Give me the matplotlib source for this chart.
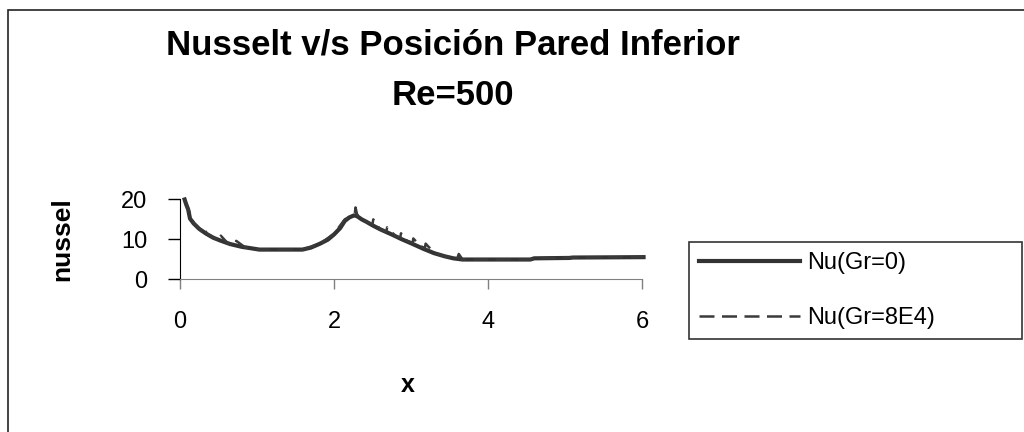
import matplotlib.pyplot as plt
from matplotlib.patches import Rectangle

plt.rcParams['font.family'] = ['Liberation Sans', 'DejaVu Sans']

# Nu(Gr=0) - smooth curve
x_gr0 = [0.06, 0.08, 0.106, 0.13, 0.176, 0.25, 0.34, 0.43, 0.52, 0.65, 0.8, 0.9,
         1.03, 1.3, 1.59, 1.7, 1.82, 1.92, 2.0, 2.08, 2.14, 2.2, 2.26, 2.3, 2.36,
         2.42, 2.5, 2.6, 2.75, 2.88, 3.0, 3.16, 3.3, 3.44, 3.55, 3.67, 4.0, 4.55,
         4.6, 5.06, 5.1, 6.02]
nu_gr0 = [20, 18.8, 17.5, 15.2, 14.0, 12.6, 11.4, 10.4, 9.7, 8.8, 8.1, 7.8,
          7.4, 7.4, 7.4, 7.9, 8.9, 9.9, 11.2, 12.8, 14.6, 15.5, 16.0, 15.8, 15.0,
          14.4, 13.5, 12.5, 11.2, 10.0, 9.0, 7.6, 6.5, 5.7, 5.2, 4.9, 4.9, 4.9,
          5.2, 5.3, 5.4, 5.5]

# Nu(Gr=8E4) - almost the same, with small saw teeth
x_gr8e4 = [0.06, 0.11, 0.18, 0.28, 0.33, 0.34, 0.45, 0.52, 0.53, 0.62, 0.72, 0.73,
           0.85, 1.03, 1.59, 1.82, 2.0, 2.14, 2.22, 2.27, 2.28, 2.3, 2.42, 2.5,
           2.51, 2.6, 2.68, 2.69, 2.8, 2.86, 2.87, 2.95, 3.02, 3.03, 3.12, 3.18,
           3.19, 3.3, 3.44, 3.6, 3.62, 3.67, 4.55, 4.6, 5.06, 6.02]
nu_gr8e4 = [20, 17.5, 14.0, 12.0, 12.9, 11.5, 10.3, 9.7, 10.9, 9.0, 8.4, 9.6,
            7.9, 7.4, 7.4, 8.9, 11.4, 15.0, 15.8, 16.5, 18.0, 16.2, 14.4, 13.8,
            15.0, 12.4, 11.9, 13.0, 10.8, 10.4, 11.5, 9.6, 9.1, 10.2, 8.3, 7.8,
            8.9, 6.6, 5.7, 5.1, 6.3, 4.9, 4.9, 5.2, 5.4, 5.5]

x_ticks = [0, 2, 4, 6]
y_ticks = [0, 10, 20]

fig = plt.figure(figsize=(10.24, 4.32), dpi=100)
ax = fig.add_axes([180 / 1024, 1 - 279 / 432, 462 / 1024, 79.5 / 432])

ax.plot(x_gr0, nu_gr0, color='#333333', lw=3.0, label='Nu(Gr=0)', clip_on=False)
ax.plot(x_gr8e4, nu_gr8e4, color='#3a3a3a', lw=1.8, dashes=(6, 3),
        label='Nu(Gr=8E4)', clip_on=False)

ax.set_xlim(0, 6)
ax.set_ylim(0, 20)
ax.set_xticks(x_ticks)
ax.set_yticks(y_ticks)
ax.tick_params(axis='y', direction='out', length=8.5, width=1, colors='black',
               labelsize=17, pad=15)
ax.tick_params(axis='x', direction='out', length=7, width=1, colors='#808080',
               labelcolor='black', labelsize=17, pad=16)
for s in ['top', 'right']:
    ax.spines[s].set_visible(False)
ax.spines['left'].set_color('black')
ax.spines['bottom'].set_color('#808080')

fig.text(0.442, 0.896, 'Nusselt v/s Posición Pared Inferior', ha='center',
         va='center', fontsize=25, fontweight='bold')
fig.text(0.442, 0.780, 'Re=500', ha='center', va='center', fontsize=25,
         fontweight='bold')
fig.text(0.0605, 0.447, 'nussel', ha='center', va='center', rotation=90,
         fontsize=19, fontweight='bold')
fig.text(0.398, 0.109, 'x', ha='center', va='center', fontsize=18,
         fontweight='bold')

leg = ax.legend(loc='upper left',
                bbox_to_anchor=(689 / 1024, 1 - 341 / 432, 333 / 1024, 99 / 432),
                bbox_transform=fig.transFigure, mode='expand', fontsize=17,
                frameon=True, fancybox=False, edgecolor='black',
                handlelength=4.3, handletextpad=0.3, labelspacing=1.4,
                borderpad=0.42, borderaxespad=0)
leg.get_frame().set_linewidth(1.2)

# chart border (cut by the image at right and bottom)
fig.patches.append(Rectangle((8 / 1024, -0.1), 1.1, 1 - 10 / 432 + 0.1,
                             transform=fig.transFigure, fill=False,
                             edgecolor='#222222', lw=1.2))

fig.savefig('out.png', dpi=100)
